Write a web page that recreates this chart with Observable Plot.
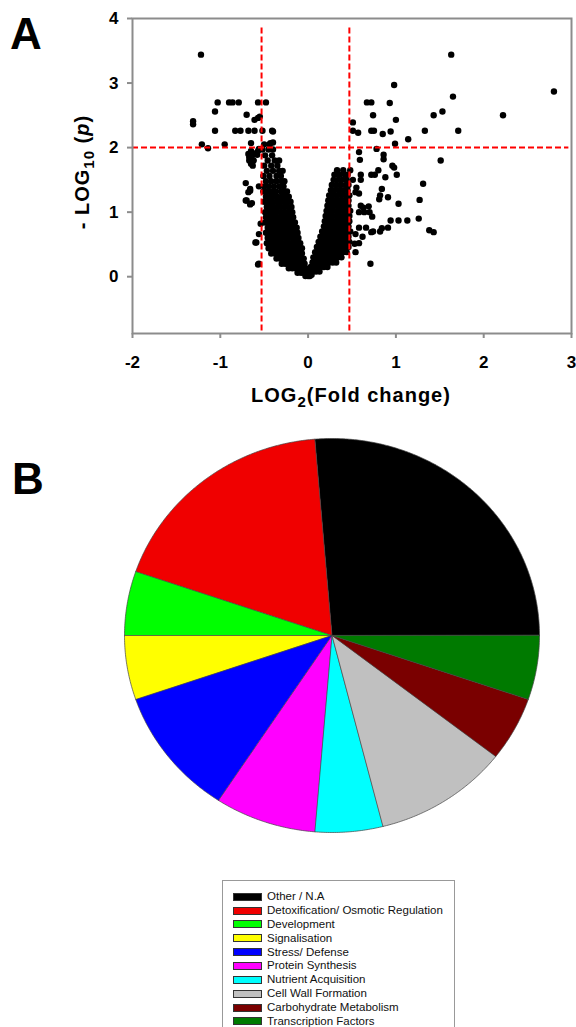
<!DOCTYPE html>
<html>
<head>
<meta charset="utf-8">
<script src="https://cdn.jsdelivr.net/npm/d3@7"></script>
<script src="https://cdn.jsdelivr.net/npm/@observablehq/plot@0.6"></script>
<style>
  body { margin: 0; background: white; }
  #root { position: relative; width: 576px; height: 1027px; overflow: hidden; background: white; font-family: 'Liberation Sans', Arial, sans-serif; }
  .panel { position: absolute; z-index: 5; font-weight: bold; font-size: 44px; line-height: 44px; color: black; }
  #legend { position: absolute; left: 222px; top: 880px; width: 231px; height: 170px; border: 1px solid #999; background: white; }
  .lrow { position: absolute; left: 0; height: 14px; line-height: 14px; font-size: 11.5px; color: #111; white-space: nowrap; }
  .sw { position: absolute; left: 10px; top: 3.5px; width: 27px; height: 6px; border: 0.8px solid #333; }
  .lt { position: absolute; left: 44px; top: 0; }
</style>
</head>
<body>
<div id="root">
  <div class="panel" style="left:10px; top:12px;">A</div>
  <div class="panel" style="left:12px; top:457px;">B</div>
</div>
<script>
// ---------- Panel A: volcano plot data ----------
const xTicks = [-2, -1, 0, 1, 2, 3];
const yTicks = [0, 1, 2, 3, 4];
const thresholdX = [-0.53, 0.47];
const thresholdY = [2];

// individual (scattered) proteins: [log2 fold change, -log10 p]
const scatterPoints = [
  [-1.22,3.44],[-1.31,2.41],[-1.31,2.36],[-1.21,2.05],[-1.14,1.99],[-1.03,2.70],[-1.06,2.56],[-1.06,2.26],
  [-0.95,2.05],[-0.90,2.70],[-0.86,2.70],[-0.79,2.70],[-0.83,2.26],[-0.77,2.26],[-0.68,2.26],[-0.61,2.26],
  [-0.52,2.26],[-0.70,2.51],[-0.57,2.70],[-0.48,2.70],[-0.61,2.43],[-0.57,2.46],[-0.55,2.48],[-0.65,2.07],
  [-0.41,2.26],[-0.43,2.07],[-0.40,2.08],[-0.40,2.25],
  [-0.61,1.90],[-0.64,1.82],[-0.67,1.80],[-0.57,1.95],[-0.63,1.72],[-0.68,1.90],[-0.58,1.89],[-0.65,1.95],
  [-0.62,1.80],[-0.65,1.75],[-0.67,1.85],[-0.62,1.91],[-0.56,1.98],
  [-0.71,1.45],[-0.66,1.36],[-0.68,1.31],[-0.56,1.40],[-0.66,1.33],[-0.71,1.18],[-0.66,1.12],[-0.70,1.18],
  [-0.64,1.14],[-0.54,0.82],[-0.56,0.66],[-0.59,0.53],[-0.60,0.53],[-0.57,0.19],[-0.56,0.20],
  [0.98,2.97],[1.63,3.44],[1.65,2.79],[1.53,2.56],[1.43,2.50],[1.71,2.26],[2.22,2.50],[2.80,2.87],
  [0.67,2.70],[0.72,2.70],[0.93,2.69],[0.74,2.50],[1.00,2.43],[0.51,2.39],[0.51,2.26],[0.57,2.23],
  [0.72,2.26],[0.75,2.26],[0.85,2.21],[0.94,2.25],[1.33,2.26],[1.14,2.13],[0.99,2.06],[0.78,1.98],
  [0.58,1.93],[0.59,1.81],[0.86,1.89],[0.86,1.82],[0.96,1.72],[0.98,1.69],[1.51,1.80],[0.80,1.65],
  [0.48,1.65],[0.60,1.58],[0.72,1.58],[0.76,1.58],[0.88,1.54],[1.01,1.58],[0.51,1.50],[0.60,1.50],
  [1.31,1.44],[0.84,1.36],[0.55,1.38],[0.54,1.31],[0.58,1.29],[0.82,1.26],[0.81,1.20],[0.91,1.23],
  [1.27,1.19],[0.60,1.10],[0.63,1.07],[0.69,1.09],[1.03,1.13],[0.58,1.00],[0.64,1.00],[0.70,1.00],
  [0.73,0.93],[1.26,0.90],[0.94,0.87],[1.03,0.87],[1.13,0.87],[0.58,0.76],[0.66,0.76],[0.84,0.75],
  [0.91,0.76],[1.38,0.72],[1.43,0.69],[0.54,0.66],[0.62,0.62],[0.72,0.69],[0.74,0.70],[0.82,0.70],
  [0.53,0.51],[0.58,0.52],[0.54,0.38],[0.71,0.20]
];

// dense core of the "V", read row by row: [-log10 p, log2 fold changes...]
const denseLeft = [
  [2.05,-0.50,-0.44],
  [1.97,-0.52,-0.45,-0.40],
  [1.88,-0.49,-0.41],
  [1.80,-0.46,-0.38,-0.33],
  [1.72,-0.50,-0.42,-0.35],
  [1.64,-0.47,-0.40,-0.33,-0.29],
  [1.56,-0.51,-0.44,-0.36,-0.31],
  [1.48,-0.48,-0.42,-0.36,-0.30,-0.27],
  [1.40,-0.50,-0.45,-0.39,-0.33,-0.28],
  [1.32,-0.51,-0.46,-0.42,-0.37,-0.31,-0.27,-0.24],
  [1.24,-0.48,-0.43,-0.39,-0.35,-0.30,-0.26,-0.22],
  [1.16,-0.50,-0.45,-0.41,-0.36,-0.32,-0.28,-0.24,-0.20],
  [1.08,-0.47,-0.43,-0.39,-0.35,-0.31,-0.27,-0.23,-0.19],
  [1.00,-0.49,-0.44,-0.40,-0.36,-0.31,-0.27,-0.22,-0.18],
  [0.92,-0.48,-0.44,-0.40,-0.36,-0.32,-0.28,-0.24,-0.20,-0.17],
  [0.84,-0.49,-0.45,-0.41,-0.37,-0.33,-0.29,-0.25,-0.21,-0.17,-0.15],
  [0.76,-0.46,-0.42,-0.38,-0.35,-0.31,-0.27,-0.23,-0.19,-0.15,-0.13],
  [0.68,-0.48,-0.44,-0.40,-0.36,-0.32,-0.28,-0.24,-0.20,-0.16,-0.12],
  [0.60,-0.46,-0.42,-0.38,-0.34,-0.30,-0.26,-0.22,-0.18,-0.14,-0.11],
  [0.52,-0.47,-0.43,-0.39,-0.35,-0.31,-0.27,-0.23,-0.19,-0.15,-0.11,-0.09],
  [0.44,-0.45,-0.41,-0.37,-0.33,-0.29,-0.25,-0.21,-0.17,-0.13,-0.09,-0.07],
  [0.36,-0.42,-0.38,-0.34,-0.30,-0.26,-0.22,-0.18,-0.14,-0.10,-0.07],
  [0.28,-0.36,-0.32,-0.28,-0.24,-0.20,-0.16,-0.12,-0.08,-0.05],
  [0.20,-0.30,-0.26,-0.22,-0.18,-0.14,-0.10,-0.06,-0.04],
  [0.13,-0.22,-0.18,-0.14,-0.10,-0.06,-0.03],
  [0.06,-0.12,-0.08,-0.05,-0.02],
  [0.01,-0.03,0.00,0.02]
];
const denseRight = [
  [1.65,0.33,0.40],
  [1.58,0.30,0.36,0.42,0.45],
  [1.50,0.29,0.34,0.39,0.44],
  [1.42,0.27,0.32,0.37,0.43,0.46],
  [1.34,0.26,0.30,0.35,0.40,0.45],
  [1.26,0.24,0.28,0.33,0.38,0.43,0.47],
  [1.18,0.23,0.27,0.31,0.35,0.39,0.43,0.46],
  [1.10,0.22,0.26,0.30,0.34,0.38,0.42,0.46],
  [1.02,0.21,0.25,0.29,0.33,0.37,0.41,0.45,0.48],
  [0.94,0.20,0.24,0.28,0.32,0.36,0.40,0.44,0.47],
  [0.86,0.19,0.23,0.27,0.31,0.35,0.39,0.43,0.47],
  [0.78,0.18,0.22,0.26,0.30,0.34,0.38,0.42,0.46],
  [0.70,0.16,0.20,0.24,0.28,0.32,0.36,0.40,0.44,0.48],
  [0.62,0.14,0.18,0.22,0.26,0.30,0.34,0.38,0.42,0.46],
  [0.54,0.12,0.16,0.20,0.24,0.28,0.32,0.36,0.40,0.44,0.47],
  [0.46,0.10,0.14,0.18,0.22,0.26,0.30,0.34,0.38,0.42,0.46],
  [0.38,0.08,0.12,0.16,0.20,0.24,0.28,0.32,0.36,0.40,0.44],
  [0.30,0.06,0.10,0.14,0.18,0.22,0.26,0.30,0.34,0.38],
  [0.22,0.05,0.08,0.12,0.16,0.20,0.24,0.28,0.32],
  [0.15,0.03,0.06,0.10,0.14,0.18,0.22],
  [0.08,0.02,0.05,0.09,0.13],
  [0.03,0.01,0.04]
];

// ---------- Panel B: functional categories ----------
const categories = ["Other / N.A", "Detoxification/ Osmotic Regulation", "Development", "Signalisation",
  "Stress/ Defense", "Protein Synthesis", "Nutrient Acquisition", "Cell Wall Formation",
  "Carbohydrate Metabolism", "Transcription Factors"];
const counts = [10, 7, 2, 2, 4, 3, 2, 4, 2, 2];
const sliceColors = ["#000000", "#f00000", "#00ff00", "#ffff00", "#0000ff", "#ff00ff", "#00ffff",
  "#c0c0c0", "#7a0000", "#007a00"];

// ---------- build ----------
const root = document.getElementById("root");

const volcanoData = scatterPoints.map(([x, y]) => ({x, y}));
for (const [y, ...xs] of denseLeft.concat(denseRight)) for (const x of xs) volcanoData.push({x, y});

const fmt = d => (d < 0 ? "-" + Math.abs(d) : String(d));

const volcano = Plot.plot({
  width: 576, height: 415,
  marginLeft: 132, marginRight: 5, marginTop: 18, marginBottom: 82,
  style: {fontFamily: "'Liberation Sans', Arial, sans-serif", fontSize: "17px", fontWeight: "bold", color: "black", background: "transparent", overflow: "visible"},
  x: {domain: [-2, 3]},
  y: {domain: [-0.88, 4]},
  marks: [
    Plot.dot(volcanoData, {x: "x", y: "y", r: 3.2, fill: "black", stroke: null}),
    Plot.ruleX(thresholdX, {y1: -0.84, y2: 3.9, stroke: "#ff0000", strokeWidth: 2, strokeDasharray: "6,3"}),
    Plot.ruleY(thresholdY, {x1: -2, x2: 2.97, stroke: "#ff0000", strokeWidth: 2, strokeDasharray: "6,3"}),
    Plot.frame({stroke: "#8c8c8c", strokeWidth: 2}),
    Plot.axisX(xTicks, {tickSize: 5, tickPadding: 17, stroke: "#8c8c8c", strokeWidth: 2, fill: "black", label: null, tickFormat: fmt}),
    Plot.axisY(yTicks, {tickSize: 5, tickPadding: 9, stroke: "#8c8c8c", strokeWidth: 2, fill: "black", label: null, tickFormat: fmt})
  ]
});
volcano.style.position = "absolute";
volcano.style.left = "0px";
volcano.style.top = "0px";
root.appendChild(volcano);

const sv = d3.select(volcano);
const xt = sv.append("text")
  .attr("x", 351).attr("y", 402).attr("text-anchor", "middle")
  .attr("font-size", 20).attr("font-weight", "bold").attr("fill", "black").style("letter-spacing", "1px");
xt.append("tspan").text("LOG");
xt.append("tspan").attr("font-size", 15).attr("dy", 5).text("2");
xt.append("tspan").attr("dy", -5).text("(Fold change)");

const yt = sv.append("text")
  .attr("transform", "translate(89,172) rotate(-90)").attr("text-anchor", "middle")
  .attr("font-size", 20).attr("font-weight", "bold").attr("fill", "black").style("letter-spacing", "1px");
yt.append("tspan").text("- LOG");
yt.append("tspan").attr("font-size", 15).attr("dy", 5).text("10");
yt.append("tspan").attr("dy", -5).text(" (");
yt.append("tspan").attr("font-style", "italic").text("p");
yt.append("tspan").text(")");

// pie slices as closed polygons, counter-clockwise from 3 o'clock
const total = d3.sum(counts);
const pieRows = [];
let cum = 0;
categories.forEach((cat, i) => {
  const a0 = 2 * Math.PI * cum / total;
  cum += counts[i];
  const a1 = 2 * Math.PI * cum / total;
  pieRows.push({cat, x: 0, y: 0});
  const n = Math.max(2, Math.ceil((a1 - a0) / (Math.PI / 360)));
  for (let k = 0; k <= n; k++) {
    const a = a0 + (a1 - a0) * k / n;
    pieRows.push({cat, x: Math.cos(a), y: Math.sin(a)});
  }
});

const pie = Plot.plot({
  width: 576, height: 430,
  marginLeft: 124, marginRight: 37, marginTop: 18, marginBottom: 18,
  style: {background: "transparent", overflow: "visible"},
  x: {domain: [-1, 1], axis: null},
  y: {domain: [-1, 1], axis: null},
  color: {type: "ordinal", domain: categories, range: sliceColors},
  marks: [
    Plot.line(pieRows, {x: "x", y: "y", z: "cat", fill: "cat", stroke: "#444", strokeWidth: 0.7, curve: "linear-closed"})
  ]
});
pie.style.position = "absolute";
pie.style.left = "0px";
pie.style.top = "420px";
root.appendChild(pie);

// legend
const legend = document.createElement("div");
legend.id = "legend";
categories.forEach((cat, i) => {
  const row = document.createElement("div");
  row.className = "lrow";
  row.style.top = (8.2 + i * 13.85) + "px";
  const sw = document.createElement("div");
  sw.className = "sw";
  sw.style.background = sliceColors[i];
  const t = document.createElement("div");
  t.className = "lt";
  t.textContent = cat;
  row.appendChild(sw);
  row.appendChild(t);
  legend.appendChild(row);
});
root.appendChild(legend);
</script>
</body>
</html>
